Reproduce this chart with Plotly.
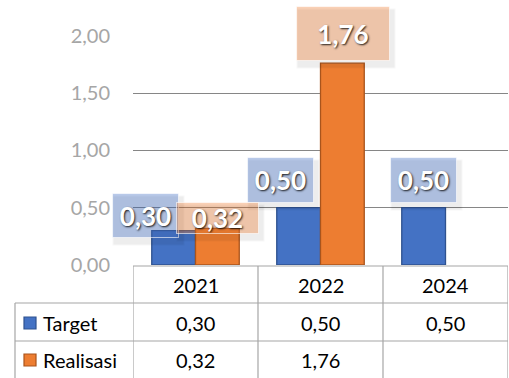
import plotly.graph_objects as go

categories = ["2021", "2022", "2024"]
series_names = ["Target", "Realisasi"]
target = [0.30, 0.50, 0.50]
realisasi = [0.32, 1.76, None]
y_ticks = [0.0, 0.5, 1.0, 1.5, 2.0]

colors = ["#4472C4", "#ED7D31"]
edges = ["#2F528F", "#A9541C"]
box_colors = ["rgba(68,114,196,0.38)", "rgba(237,125,49,0.36)"]

W, H = 509, 378
ML, MR, MT, MB = 133, 1, 35, 113
PW, PH = W - ML - MR, H - MT - MB

def px_x(px):
    return (px - ML) / PW

def px_y(py):
    return (H - MB - py) / PH

def fmt(v):
    return "" if v is None else f"{v:.2f}".replace(".", ",")

fig = go.Figure()
for name, vals, c, e in zip(series_names, [target, realisasi], colors, edges):
    fig.add_trace(go.Bar(x=categories, y=vals, name=name,
                         marker=dict(color=c, line=dict(color=e, width=1.3))))

# data labels (style offsets per label: dx, dy in px; box w,h)
label_style = {
    (0, 0): (-28, 15, 65, 43), (0, 1): (-18, 28, 65, 44), (0, 2): (0, 28, 65, 44),
    (1, 0): (0, 10, 81, 30), (1, 1): (0, 30, 92, 53),
}
for s, vals in enumerate([target, realisasi]):
    for i, v in enumerate(vals):
        if v is None:
            continue
        dx, dy, bw, bh = label_style[(s, i)]
        base = -22 if s == 0 else 22
        # soft shadow
        for k, a in [(6, 0.03), (4, 0.04)]:
            fig.add_annotation(x=i, y=v, xref="x", yref="y", text=" ",
                               showarrow=False, xshift=base + dx + 3, yshift=dy - 5,
                               width=bw + k, height=bh + k, bgcolor=f"rgba(0,0,0,{a})",
                               borderpad=0, yanchor="middle")
        fig.add_annotation(x=i, y=v, xref="x", yref="y", text=fmt(v),
                           showarrow=False, xshift=base + dx, yshift=dy,
                           width=bw, height=bh, bgcolor=box_colors[s],
                           bordercolor="rgba(255,255,255,0.6)", borderwidth=1, borderpad=0,
                           yanchor="middle",
                           font=dict(family="Lato", size=26, color="white", weight="bold",
                                     shadow="1px 1px 2px rgba(0,0,0,0.85)"))

# data table
line_c = "#A6A6A6"
shapes = []
y_top, y_r1, y_r2, y_bot = px_y(266), px_y(303), px_y(341), px_y(380)
shapes.append(dict(type="line", xref="paper", yref="paper", x0=0, x1=1, y0=y_top, y1=y_top,
                   line=dict(color=line_c, width=1.2)))
for yy in [y_r1, y_r2]:
    shapes.append(dict(type="line", xref="paper", yref="paper", x0=px_x(15), x1=1, y0=yy, y1=yy,
                       line=dict(color=line_c, width=1.2)))
for k in range(len(categories) + 1):
    shapes.append(dict(type="line", xref="x", yref="paper", x0=k - 0.5, x1=k - 0.5,
                       y0=y_top, y1=y_bot, line=dict(color=line_c, width=1.2)))
shapes.append(dict(type="line", xref="paper", yref="paper", x0=px_x(15), x1=px_x(15),
                   y0=y_r1, y1=y_bot, line=dict(color=line_c, width=1.2)))

tfont = dict(family="Lato", size=20, color="#000000")
for i, c in enumerate(categories):
    fig.add_annotation(x=i, y=px_y(285), xref="x", yref="paper", text=c, showarrow=False,
                       font=tfont, yanchor="middle")
row_y = [px_y(323), px_y(360)]
for s, (name, vals) in enumerate(zip(series_names, [target, realisasi])):
    yy = row_y[s]
    shapes.append(dict(type="rect", xref="paper", yref="paper",
                       x0=px_x(24), x1=px_x(36), y0=yy - 6 / PH, y1=yy + 6 / PH,
                       fillcolor=colors[s], line=dict(color=edges[s], width=1.2)))
    fig.add_annotation(x=px_x(41), y=yy, xref="paper", yref="paper", text=name,
                       showarrow=False, xanchor="left", yanchor="middle", font=tfont)
    for i, v in enumerate(vals):
        fig.add_annotation(x=i, y=yy, xref="x", yref="paper", text=fmt(v),
                           showarrow=False, yanchor="middle", font=tfont)

fig.update_layout(
    width=W, height=H, margin=dict(l=ML, r=MR, t=MT, b=MB),
    paper_bgcolor="white", plot_bgcolor="white",
    barmode="group", bargap=0.3, bargroupgap=0,
    showlegend=False, separators=", ", shapes=shapes,
    xaxis=dict(type="category", showticklabels=False, showgrid=False, zeroline=False,
               showline=False, range=[-0.5, 2.5], fixedrange=True),
    yaxis=dict(range=[0, 2.006], tickvals=y_ticks, tickformat=".2f",
               showgrid=True, gridcolor="#868686", gridwidth=1.2, zeroline=False,
               showline=False, ticklabelstandoff=22,
               tickfont=dict(family="Lato", size=20, color="#A6A6A6")),
)
fig.write_html("out.html")
